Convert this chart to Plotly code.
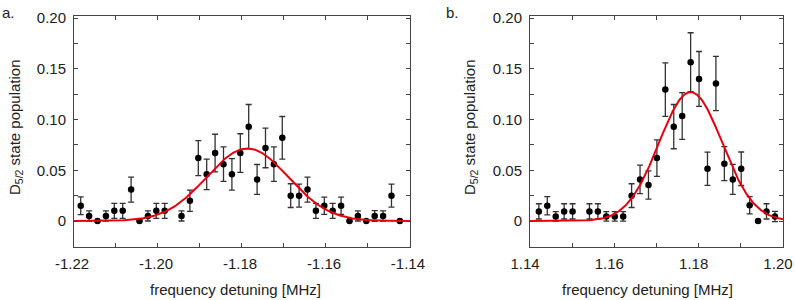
import numpy as np
import plotly.graph_objects as go

# ---------------- data: panel a ----------------
a_x = [-1.2184 + 0.002 * k for k in range(39) if k != 11]
a_y = [0.015, 0.005, 0.0, 0.005, 0.010, 0.010, 0.031, 0.0, 0.005, 0.010, 0.010,
       0.005, 0.020, 0.062, 0.046, 0.067, 0.056, 0.046, 0.067, 0.093, 0.041,
       0.072, 0.056, 0.082, 0.025, 0.025, 0.031, 0.010, 0.015, 0.010, 0.015,
       0.0, 0.005, 0.0, 0.005, 0.005, 0.025, 0.0]
a_err = [0.0087, 0.005, 0.0, 0.005, 0.0073, 0.0073, 0.0123, 0.0, 0.005, 0.0073, 0.0073,
         0.005, 0.0105, 0.0173, 0.015, 0.0185, 0.017, 0.0155, 0.019, 0.0218, 0.0147,
         0.0195, 0.017, 0.021, 0.0117, 0.0113, 0.0123, 0.0073, 0.0085, 0.0073, 0.0085,
         0.0, 0.005, 0.0, 0.0053, 0.005, 0.0113, 0.0]
# fitted Gaussian (amplitude, centre, sigma)
a_fit = dict(amp=0.0715, center=-1.1787, sigma=0.0097)

# ---------------- data: panel b ----------------
b_x = [1.1421 + 0.002 * k for k in range(29) if k != 5]
b_y = [0.0095, 0.015, 0.0045, 0.0095, 0.0095, 0.0095, 0.0095, 0.0045, 0.0045, 0.0045,
       0.025, 0.041, 0.0355, 0.062, 0.1295, 0.093, 0.1035, 0.1565, 0.140, 0.0515,
       0.1355, 0.0565, 0.041, 0.0515, 0.0155, 0.0, 0.0095, 0.0045]
b_err = [0.0075, 0.009, 0.0047, 0.0075, 0.0075, 0.0075, 0.0075, 0.0047, 0.0047, 0.0047,
         0.0117, 0.014, 0.014, 0.018, 0.0263, 0.0218, 0.023, 0.029, 0.027, 0.0163,
         0.0267, 0.0168, 0.0148, 0.0165, 0.0085, 0.0, 0.0075, 0.005]
b_fit = dict(amp=0.127, center=1.1781, sigma=0.0075)

a_ticks = [-1.22, -1.20, -1.18, -1.16, -1.14]
a_ticktext = ["-1.22", "-1.20", "-1.18", "-1.16", "-1.14"]
b_ticks = [1.14, 1.16, 1.18, 1.20]
b_ticktext = ["1.14", "1.16", "1.18", "1.20"]
y_ticks = [0.0, 0.05, 0.10, 0.15, 0.20]
y_ticktext = ["0", "0.05", "0.10", "0.15", "0.20"]

xlabel = "frequency detuning [MHz]"
ylabel = "D<sub>5/2</sub> state population"

W, H = 795, 300
FONT = "Liberation Sans, Arial, sans-serif"
FS = 15
TXT = "#222222"
AX = "#444444"

def gauss(x, p):
    x = np.asarray(x)
    return p["amp"] * np.exp(-(x - p["center"]) ** 2 / (2 * p["sigma"] ** 2))

fig = go.Figure()

for xs, ys, es, fit, rng, xa, ya in [
    (a_x, a_y, a_err, a_fit, (-1.22, -1.14), "x", "y"),
    (b_x, b_y, b_err, b_fit, (1.14, 1.20), "x2", "y2"),
]:
    xf = np.linspace(rng[0], rng[1], 400)
    fig.add_trace(go.Scatter(
        x=xs, y=ys, mode="markers", xaxis=xa, yaxis=ya,
        marker=dict(color="black", size=6.5),
        error_y=dict(type="data", array=es, visible=True, color="#333333",
                     thickness=1.3, width=3),
        showlegend=False, cliponaxis=False,
    ))
    fig.add_trace(go.Scatter(
        x=xf, y=gauss(xf, fit), mode="lines", xaxis=xa, yaxis=ya,
        line=dict(color="#e8000b", width=2), showlegend=False,
    ))

def px_x(p):
    return p / W

def px_y(p):
    return 1 - p / H

ydom = [px_y(247), px_y(16)]

common_axis = dict(
    showline=True, linecolor=AX, linewidth=1, mirror="ticks",
    ticks="inside", ticklen=4, tickcolor=AX, tickwidth=1,
    showgrid=False, zeroline=False, automargin=False,
    tickfont=dict(family=FONT, size=FS, color=TXT),
    tickmode="array", ticklabeloverflow="allow",
)

fig.update_layout(
    template="none",
    width=W, height=H,
    margin=dict(l=0, r=0, t=0, b=0, autoexpand=False),
    paper_bgcolor="white", plot_bgcolor="white",
    font=dict(family=FONT, size=FS, color=TXT),
    xaxis=dict(domain=[px_x(74), px_x(410)], range=[-1.22, -1.13999], anchor="y",
               tickvals=a_ticks, ticktext=a_ticktext, ticklabelstandoff=3,
               ticklabelshift=-2,
               minor=dict(dtick=0.01, tick0=0, ticks="inside", ticklen=4,
                          tickcolor=AX, showgrid=False),
               **common_axis),
    yaxis=dict(domain=ydom, range=[-0.0256, 0.202], anchor="x",
               tickvals=y_ticks, ticktext=y_ticktext, ticklabelstandoff=4,
               minor=dict(dtick=0.025, tick0=0, ticks="inside", ticklen=4,
                          tickcolor=AX, showgrid=False),
               **common_axis),
    xaxis2=dict(domain=[px_x(530), px_x(783)], range=[1.14, 1.20001], anchor="y2",
                tickvals=b_ticks, ticktext=b_ticktext, ticklabelstandoff=3,
                ticklabelshift=-5,
                minor=dict(dtick=0.01, tick0=0, ticks="inside", ticklen=4,
                           tickcolor=AX, showgrid=False),
                **common_axis),
    yaxis2=dict(domain=ydom, range=[-0.0256, 0.202], anchor="x2",
                tickvals=y_ticks, ticktext=y_ticktext, ticklabelstandoff=4,
                minor=dict(dtick=0.025, tick0=0, ticks="inside", ticklen=4,
                           tickcolor=AX, showgrid=False),
                **common_axis),
)

ann = [
    dict(text="a.", x=px_x(0), y=px_y(12), xanchor="left", yanchor="middle"),
    dict(text="b.", x=px_x(444), y=px_y(12), xanchor="left", yanchor="middle"),
    dict(text=xlabel, x=px_x(235), y=px_y(289), xanchor="center", yanchor="middle"),
    dict(text=xlabel, x=px_x(647), y=px_y(289), xanchor="center", yanchor="middle"),
    dict(text=ylabel, x=px_x(15), y=px_y(127), xanchor="center", yanchor="middle",
         textangle=-90),
    dict(text=ylabel, x=px_x(470), y=px_y(127), xanchor="center", yanchor="middle",
         textangle=-90),
]
for a in ann:
    fig.add_annotation(xref="paper", yref="paper", showarrow=False,
                       font=dict(family=FONT, size=FS, color=TXT), **a)

fig.write_html("out.html", config={"displayModeBar": False},
               post_script="document.body.style.margin='0px';")
